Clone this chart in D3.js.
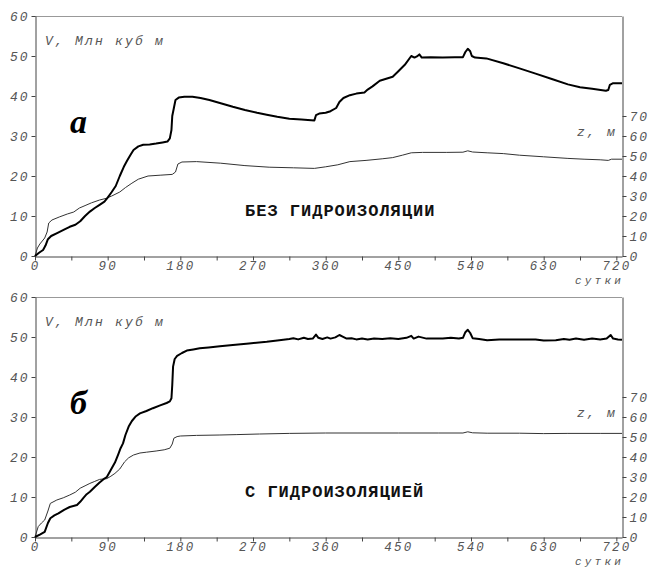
<!DOCTYPE html>
<html>
<head>
<meta charset="utf-8">
<script src="https://cdn.jsdelivr.net/npm/d3@7"></script>
<style>
	body{margin:0;background:#fff;}
	.tickTxt text{font-family:"Liberation Mono",monospace;font-style:italic;font-size:13px;letter-spacing:2px;fill:#555;}
	.tickTxt.xAxis text{font-size:12.5px;letter-spacing:2.2px;}
	.lbl{font-family:"Liberation Mono",monospace;font-style:italic;font-size:13px;letter-spacing:2.2px;fill:#555;}
	.days{font-size:11px;letter-spacing:3.2px;}
	.title{font-family:"Liberation Mono",monospace;font-weight:bold;font-size:17px;letter-spacing:1px;fill:#111;}
	.letter{font-family:"Liberation Serif",serif;font-weight:bold;font-style:italic;font-size:34px;fill:#000;}
</style>
</head>
<body>
<svg id="chart" width="651" height="568"></svg>
<script>
// days on the x axis, [day, value]
let xTicks = d3.range(0, 721, 45),
	vTicks = d3.range(0, 61, 10),
	zTicks = d3.range(0, 71, 10);

// panel a: without waterproofing, V (mln m3)
let volumeA = [[0,0],[5,0.8],[10,1.5],[13,2.6],[16,4.2],[20,5.0],[28,5.8],[36,6.6],[43,7.3],[50,7.8],[56,8.7],[62,10.0],
	[68,11.1],[74,12.0],[80,12.8],[86,13.6],[90,14.6],[95,16.0],[100,17.5],[105,20.0],[110,22.3],[114,23.8],[118,25.2],
	[122,26.5],[128,27.4],[134,27.8],[142,27.9],[150,28.1],[158,28.4],[164,28.6],[167,29.4],[169,31.5],[170,35],[172,37.0],
	[174,39.0],[178,39.6],[185,39.8],[195,39.8],[205,39.5],[216,39.0],[230,38.2],[245,37.3],[260,36.5],[275,35.8],[287,35.3],
	[300,34.8],[315,34.3],[330,34.1],[346,33.9],[348,35.2],[352,35.6],[360,35.8],[366,36.2],[373,37.0],[377,38.5],[382,39.5],
	[390,40.2],[398,40.6],[408,40.9],[412,41.6],[418,42.4],[427,43.8],[435,44.3],[443,44.8],[450,46.2],[458,47.8],[466,50.0],
	[470,49.6],[473,49.9],[476,50.4],[479,49.6],[490,49.7],[505,49.6],[520,49.7],[530,49.7],[533,51.0],[536,51.8],[539,51.2],
	[541,50.0],[545,49.6],[559,49.4],[580,48.2],[600,46.9],[620,45.6],[641,44.2],[660,42.9],[675,42.2],[690,41.8],[707,41.3],
	[710,41.5],[712,42.8],[716,43.2],[727,43.2]];

// panel a: level z (m)
let levelA = [[0,0],[3,4],[6,6],[12,9],[15,12],[17,16.5],[21,18],[30,19.5],[40,21],[48,22],[55,24],[62,25.2],[70,26.6],
	[80,28],[88,28.8],[95,30],[105,32],[112,34.2],[120,36.4],[128,38.4],[140,40],[155,40.4],[170,40.8],[174,42],[177,46],
	[182,47],[200,47.2],[230,46.4],[260,45.2],[290,44.4],[320,44.1],[346,43.8],[360,44.6],[375,45.6],[390,47.2],[410,47.8],
	[430,48.6],[443,49.2],[455,50.4],[466,51.6],[480,51.8],[510,51.8],[530,51.9],[536,52.6],[542,52],[560,51.6],[580,51.2],
	[600,50.4],[630,49.6],[660,48.8],[680,48.4],[700,48.1],[710,47.8],[714,48.4],[727,48.4]];

// panel b: with waterproofing, V (mln m3)
let volumeB = [[0,0],[6,0.6],[12,1.3],[16,3.5],[19,4.7],[24,5.4],[29,5.9],[36,6.8],[43,7.5],[52,8.0],[56,8.8],[60,9.8],
	[64,10.7],[68,11.3],[74,12.5],[80,13.6],[86,14.6],[89,15.0],[94,16.8],[99,18.6],[103,20.6],[106,22.2],[109,23.4],
	[112,25.5],[116,27.6],[120,29.0],[125,30.2],[130,30.9],[138,31.5],[146,32.2],[155,32.9],[163,33.5],[167,33.9],[169,34.7],
	[170,38],[171,42.6],[173,44.5],[176,45.3],[182,46.0],[188,46.6],[196,46.9],[204,47.2],[215,47.4],[229,47.7],[245,48.0],
	[265,48.4],[287,48.8],[300,49.1],[315,49.5],[320,49.7],[326,49.4],[333,49.8],[338,49.5],[344,49.6],[348,50.6],[351,49.8],
	[356,49.5],[362,49.9],[366,49.6],[372,49.9],[377,50.5],[381,50.1],[386,49.6],[392,49.7],[398,49.4],[405,49.6],[412,49.4],
	[420,49.6],[430,49.5],[440,49.7],[450,49.5],[460,49.8],[466,50.3],[469,49.6],[475,50.1],[485,49.6],[495,49.6],[505,49.6],
	[515,49.8],[525,49.6],[530,49.8],[533,51.2],[536,51.8],[539,51.0],[542,49.7],[550,49.5],[560,49.2],[575,49.4],[590,49.4],
	[605,49.4],[620,49.4],[630,49.1],[645,49.2],[655,49.5],[662,49.3],[670,49.6],[680,49.3],[690,49.6],[700,49.4],[708,49.6],
	[713,50.5],[716,49.6],[722,49.4],[727,49.3]];

// panel b: level z (m)
let levelB = [[0,0],[4,5.2],[8,7],[12,8.5],[16,13],[19,16.8],[27,18.5],[35,19.6],[43,21],[50,22.4],[56,24.4],[62,25.6],
	[68,26.8],[74,27.8],[80,28.8],[89,29.2],[94,30.4],[99,31.8],[105,34],[111,37.6],[116,39.6],[122,41],[130,42],[138,42.4],
	[150,43],[160,43.6],[167,44.4],[170,46.5],[172,49.4],[176,50.2],[180,50.5],[200,50.8],[229,51],[250,51.2],[278,51.5],
	[315,51.8],[360,52],[400,52],[450,52],[500,52],[530,52],[536,52.6],[542,52.1],[560,51.9],[600,51.9],[630,51.7],[660,51.8],
	[700,51.8],[727,51.8]];

let panels = [
	{offset:0, letter:"a", title:"БЕЗ ГИДРОИЗОЛЯЦИИ", volume:volumeA, level:levelA},
	{offset:281, letter:"б", title:"С ГИДРОИЗОЛЯЦИЕЙ", volume:volumeB, level:levelB}
];

let svg = d3.select("#chart"),
	x = d3.scaleLinear().domain([0, 727]).range([35, 622]),
	yV = d3.scaleLinear().domain([0, 60]).range([256, 16]),
	yZ = d3.scaleLinear().domain([0, 120]).range([256, 16]);

panels.forEach(function(p){
	let g = svg.append("g").attr("transform", "translate(0," + p.offset + ")");

	// top frame line
	g.append("line")
		.attr("x1", x(0)).attr("x2", x(727))
		.attr("y1", yV(60) + 0.5).attr("y2", yV(60) + 0.5)
		.attr("stroke", "#999").attr("stroke-width", 1);

	let left = g.append("g").attr("class", "tickTxt")
		.attr("transform", "translate(" + (x(0) + 0.5) + ",0)")
		.call(d3.axisLeft(yV).tickValues(vTicks).tickSize(4).tickSizeOuter(0).tickPadding(2));

	let bottom = g.append("g").attr("class", "tickTxt xAxis")
		.attr("transform", "translate(0," + (yV(0) + 0.5) + ")")
		.call(d3.axisBottom(x).tickValues(xTicks).tickSize(4).tickSizeOuter(0).tickPadding(1)
			.tickFormat(function(d){ return d % 90 === 0 ? d : ""; }));

	let right = g.append("g").attr("class", "tickTxt")
		.attr("transform", "translate(" + (x(727) + 0.5) + ",0)")
		.call(d3.axisRight(yZ).tickValues(zTicks).tickSize(4).tickSizeOuter(0).tickPadding(3));

	[left, bottom, right].forEach(function(a){
		a.select(".domain").attr("stroke", "#444");
		a.selectAll(".tick line").attr("stroke", "#444");
	});

	g.append("path")
		.datum(p.level)
		.attr("fill", "none").attr("stroke", "#333").attr("stroke-width", 1)
		.attr("d", d3.line().x(function(d){ return x(d[0]); }).y(function(d){ return yZ(d[1]); }));

	g.append("path")
		.datum(p.volume)
		.attr("fill", "none").attr("stroke", "#000").attr("stroke-width", 2)
		.attr("stroke-linejoin", "round")
		.attr("d", d3.line().x(function(d){ return x(d[0]); }).y(function(d){ return yV(d[1]); }));

	g.append("text").attr("class", "lbl").attr("x", 45).attr("y", 45).text("V, Млн куб м");
	g.append("text").attr("class", "lbl").attr("x", 617).attr("y", 136).attr("text-anchor", "end").text("z, м");
	g.append("text").attr("class", "lbl days").attr("x", 624).attr("y", 283.5).attr("text-anchor", "end").text("сутки");
	g.append("text").attr("class", "letter").attr("x", 70).attr("y", 133).text(p.letter);
	g.append("text").attr("class", "title").attr("x", 245).attr("y", 216).text(p.title);
});
</script>
</body>
</html>
